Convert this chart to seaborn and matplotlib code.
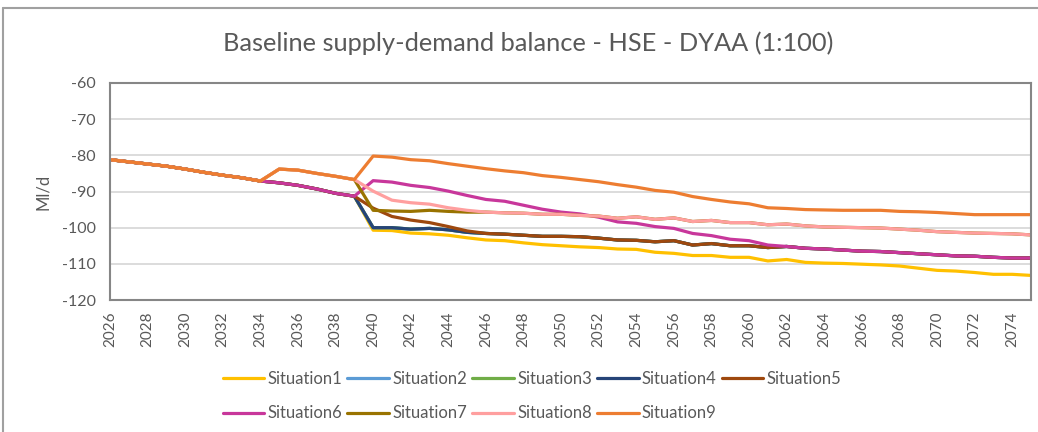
import seaborn as sns
import matplotlib.pyplot as plt
import pandas as pd
from matplotlib.lines import Line2D

# ---------------------------
# Data
# ---------------------------
years = list(range(2026, 2076))

# shared path 2026-2034
base = [-81.2, -81.8, -82.4, -83.0, -83.8, -84.7, -85.5, -86.2, -87.1]
# 2035-2039: situations 1-6 / situations 7-9
path_a = [-87.6, -88.3, -89.3, -90.5, -91.3]
path_b = [-83.8, -84.1, -85.0, -85.8, -86.7]

# 2040-2075 per situation
tail1 = [-100.7, -100.8, -101.5, -101.7, -102.1, -102.8, -103.4, -103.6, -104.2, -104.7,
         -105.0, -105.3, -105.5, -105.9, -106.0, -106.8, -107.1, -107.7, -107.7, -108.2,
         -108.2, -109.2, -108.8, -109.6, -109.8, -109.9, -110.1, -110.3, -110.6, -111.2,
         -111.8, -112.0, -112.4, -112.9, -112.9, -113.2]
tail4 = [-100.0, -100.0, -100.4, -100.2, -100.6, -101.3, -101.6, -101.8, -102.1, -102.4,
         -102.4, -102.5, -102.9, -103.4, -103.5, -103.9, -103.6, -104.8, -104.4, -105.0,
         -105.0, -105.5, -105.2, -105.7, -105.9, -106.2, -106.5, -106.6, -106.9, -107.2,
         -107.5, -107.8, -107.9, -108.2, -108.4, -108.4]
tail2 = tail4
tail3 = tail4
tail5 = [-94.6, -96.9, -97.9, -98.6, -99.7, -100.9, -101.6, -101.8, -102.1, -102.4,
         -102.4, -102.5, -102.9, -103.4, -103.5, -103.9, -103.6, -104.8, -104.4, -105.0,
         -105.0, -105.5, -105.2, -105.7, -105.9, -106.2, -106.5, -106.6, -106.9, -107.2,
         -107.5, -107.8, -107.9, -108.2, -108.4, -108.4]
tail6 = [-87.0, -87.4, -88.3, -88.9, -89.9, -91.1, -92.2, -92.7, -93.8, -94.9,
         -95.7, -96.2, -97.1, -98.4, -98.8, -99.7, -100.2, -101.6, -102.2, -103.2,
         -103.6, -104.8, -105.2, -105.7, -105.9, -106.2, -106.5, -106.6, -106.9, -107.2,
         -107.5, -107.8, -107.9, -108.2, -108.4, -108.4]
tail7 = [-95.2, -95.4, -95.5, -95.2, -95.5, -95.7, -95.7, -95.9, -96.0, -96.3,
         -96.3, -96.6, -96.8, -97.4, -97.0, -97.7, -97.3, -98.3, -98.0, -98.6,
         -98.6, -99.2, -99.0, -99.5, -99.8, -99.9, -100.0, -100.1, -100.4, -100.7,
         -101.1, -101.3, -101.5, -101.6, -101.7, -102.0]
tail8 = [-89.9, -92.4, -93.1, -93.5, -94.5, -95.2, -95.7, -95.9, -96.0, -96.3,
         -96.3, -96.6, -96.8, -97.4, -97.0, -97.7, -97.3, -98.3, -98.0, -98.6,
         -98.6, -99.2, -99.0, -99.5, -99.8, -99.9, -100.0, -100.1, -100.4, -100.7,
         -101.1, -101.3, -101.5, -101.6, -101.7, -102.0]
tail9 = [-80.2, -80.5, -81.2, -81.5, -82.3, -83.0, -83.7, -84.3, -84.8, -85.6,
         -86.1, -86.7, -87.3, -88.1, -88.8, -89.7, -90.2, -91.4, -92.2, -92.9,
         -93.4, -94.5, -94.7, -95.0, -95.1, -95.2, -95.2, -95.2, -95.5, -95.6,
         -95.8, -96.1, -96.4, -96.4, -96.4, -96.4]

situations = ["Situation1", "Situation2", "Situation3", "Situation4", "Situation5",
              "Situation6", "Situation7", "Situation8", "Situation9"]
tails = [tail1, tail2, tail3, tail4, tail5, tail6, tail7, tail8, tail9]
paths = [path_a] * 6 + [path_b] * 3
colors = ["#FFC000", "#5B9BD5", "#70AD47", "#264478", "#9E480E",
          "#C8379B", "#997300", "#FF9F9F", "#ED7D31"]

rows = []
for name, mid, tail in zip(situations, paths, tails):
    for yr, v in zip(years, base + mid + tail):
        rows.append({"Year": yr, "Value": v, "Situation": name})
df = pd.DataFrame(rows)

# ---------------------------
# Visualization
# ---------------------------
sns.set_style("white")
plt.rcParams["font.family"] = ["Lato", "DejaVu Sans"]
plt.rcParams["axes.unicode_minus"] = False

grey = "#595959"
fig = plt.figure(figsize=(10.38, 4.32), dpi=100)
ax = fig.add_axes([110 / 1038, 1 - 300 / 432, 921 / 1038, 217 / 432])

sns.lineplot(data=df, x="Year", y="Value", hue="Situation", hue_order=situations,
             palette=dict(zip(situations, colors)), linewidth=2.3, ax=ax, legend=False)

ax.set_xlim(2026, 2075)
ax.set_ylim(-120, -60)
ax.set_yticks(range(-120, -59, 10))
ax.set_xticks(range(2026, 2075, 2))
ax.set_xticks(range(2026, 2076), minor=True)
ax.tick_params(axis="x", which="both", direction="out", length=5, color="#868686",
               labelrotation=90, labelsize=11, labelcolor=grey, pad=3)
ax.tick_params(axis="y", length=0, labelsize=11.5, labelcolor=grey, pad=10)
ax.grid(axis="y", color="#D9D9D9", linewidth=1.3)
ax.set_axisbelow(True)
for sp in ax.spines.values():
    sp.set_color("#868686")
    sp.set_linewidth(1.5)

ax.set_xlabel("")
ax.set_ylabel("Ml/d", fontsize=12, color=grey, labelpad=8)
fig.text(528 / 1038, 1 - 43 / 432, "Baseline supply-demand balance - HSE - DYAA (1:100)",
         ha="center", va="center", fontsize=18.3, color=grey)

# legend filled row by row (matplotlib fills columns first)
order = [0, 5, 1, 6, 2, 7, 3, 8, 4]
handles = [Line2D([], [], color=colors[i], linewidth=2.3) for i in order]
labels = [situations[i] for i in order]
fig.legend(handles, labels, loc="upper center", bbox_to_anchor=(532 / 1038, 1 - 356 / 432),
           ncol=5, frameon=False, fontsize=12, labelcolor=grey, handlelength=2.5,
           handletextpad=0.2, columnspacing=0.3, labelspacing=1.1)

# outer chart border (top/left visible)
fig.add_artist(Line2D([3 / 1038, 1], [1 - 8 / 432, 1 - 8 / 432], transform=fig.transFigure,
                      color="#A0A0A0", linewidth=1.5))
fig.add_artist(Line2D([3 / 1038, 3 / 1038], [0, 1 - 8 / 432], transform=fig.transFigure,
                      color="#A0A0A0", linewidth=1.5))

plt.savefig("out.png", dpi=100)
plt.close()
